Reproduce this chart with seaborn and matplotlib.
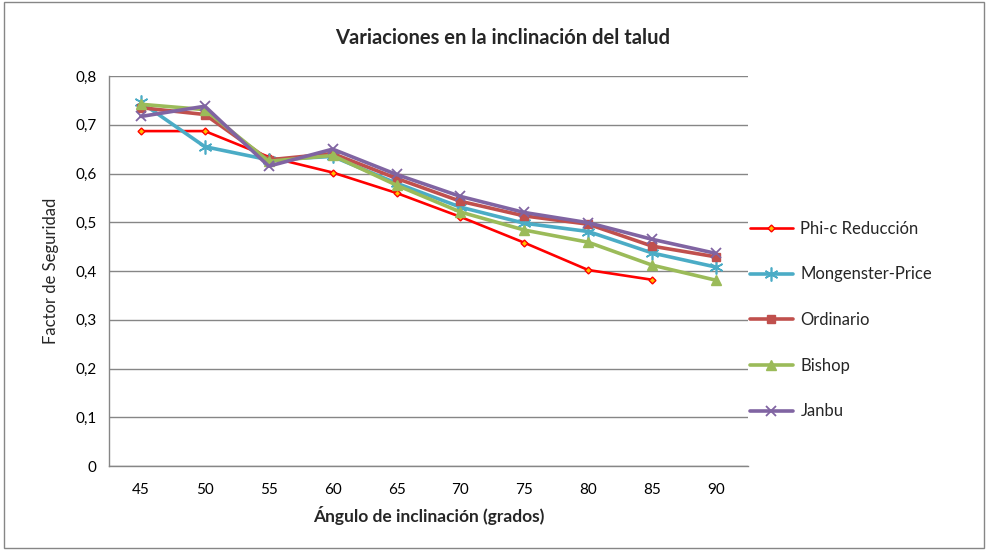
import numpy as np
import pandas as pd
import matplotlib
matplotlib.use("Agg")
import matplotlib.pyplot as plt
import seaborn as sns
from matplotlib.patches import Rectangle

# ---- data ----
angles = [45, 50, 55, 60, 65, 70, 75, 80, 85, 90]
phi_c = [0.687, 0.687, 0.634, 0.602, 0.560, 0.511, 0.458, 0.402, 0.382, np.nan]
mongenster = [0.746, 0.655, 0.628, 0.635, 0.580, 0.531, 0.498, 0.481, 0.437, 0.408]
ordinario = [0.735, 0.721, 0.628, 0.641, 0.590, 0.543, 0.513, 0.496, 0.451, 0.429]
bishop = [0.742, 0.731, 0.625, 0.637, 0.576, 0.521, 0.484, 0.459, 0.412, 0.381]
janbu = [0.717, 0.738, 0.615, 0.650, 0.598, 0.553, 0.520, 0.499, 0.465, 0.436]
series_names = ["Phi-c Reducción", "Mongenster-Price", "Ordinario", "Bishop", "Janbu"]
y_ticks = [0, 0.1, 0.2, 0.3, 0.4, 0.5, 0.6, 0.7, 0.8]
y_tick_labels = ["0", "0,1", "0,2", "0,3", "0,4", "0,5", "0,6", "0,7", "0,8"]
title = "Variaciones en la inclinación del talud"
x_label = "Ángulo de inclinación (grados)"
y_label = "Factor de Seguridad"

sns.set_theme(style="white")
plt.rcParams["font.family"] = ["Lato", "DejaVu Sans"]

fig = plt.figure(figsize=(9.87, 5.55), dpi=100)
ax = fig.add_axes([109/987, 1-466/555, (748-109)/987, (466-76)/555])

styles = [
    dict(color="#FF0000", marker="D", ms=3.5, lw=1.9, mfc="#FFC000", mec="#FF0000"),
    dict(color="#4BACC6", marker=(6, 2, 0), ms=10, lw=2.6, mfc="#4BACC6", mec="#4BACC6", mew=1.2),
    dict(color="#C0504D", marker="s", ms=6, lw=2.6, mfc="#C0504D", mec="#C0504D"),
    dict(color="#9BBB59", marker="^", ms=6.5, lw=2.6, mfc="#9BBB59", mec="#9BBB59"),
    dict(color="#8064A2", marker="x", ms=7, lw=2.6, mfc="#8064A2", mec="#8064A2", mew=1.3),
]
all_vals = [phi_c, mongenster, ordinario, bishop, janbu]
for name, vals, st in zip(series_names, all_vals, styles):
    df = pd.DataFrame({"x": angles, "y": vals})
    st = dict(st)
    sns.lineplot(data=df, x="x", y="y", ax=ax, label=name,
                 color=st.pop("color"), marker=st.pop("marker"),
                 markersize=st.pop("ms"), linewidth=st.pop("lw"),
                 markerfacecolor=st.pop("mfc"), markeredgecolor=st.pop("mec"),
                 markeredgewidth=st.pop("mew", 1.0))

ax.set_xlim(42.5, 92.5)
ax.set_ylim(0, 0.8)
ax.set_xticks(angles)
ax.set_xticklabels([str(a) for a in angles], fontsize=11)
ax.set_yticks(y_ticks)
ax.set_yticklabels(y_tick_labels, fontsize=11)
ax.yaxis.grid(True, color="#868686", lw=1.0)
ax.xaxis.grid(False)
for s in ["top", "right"]:
    ax.spines[s].set_visible(False)
for s in ["left", "bottom"]:
    ax.spines[s].set_color("#868686")
    ax.spines[s].set_linewidth(1.0)
ax.tick_params(axis="x", length=0, pad=12, colors="#000000")
ax.tick_params(axis="y", length=0, pad=9, colors="#000000")
ax.set_xlabel(x_label, fontsize=12.5, fontweight="bold", labelpad=7)
ax.set_ylabel(y_label, fontsize=12, labelpad=12)
fig.text(503/987, 1-38/555, title, fontsize=14.5, fontweight="bold",
         ha="center", va="center")

leg = ax.legend(loc="center left", bbox_to_anchor=(0.992, 0.374), frameon=False,
                fontsize=12, labelspacing=1.78, handlelength=2.6, handletextpad=0.45,
                borderaxespad=0)

fig.patches.append(Rectangle((4/987, 7/555), 980/987, 546/555, transform=fig.transFigure,
                             fill=False, edgecolor="#868686", lw=1.0))

fig.savefig("out.png", dpi=100, facecolor="white")
